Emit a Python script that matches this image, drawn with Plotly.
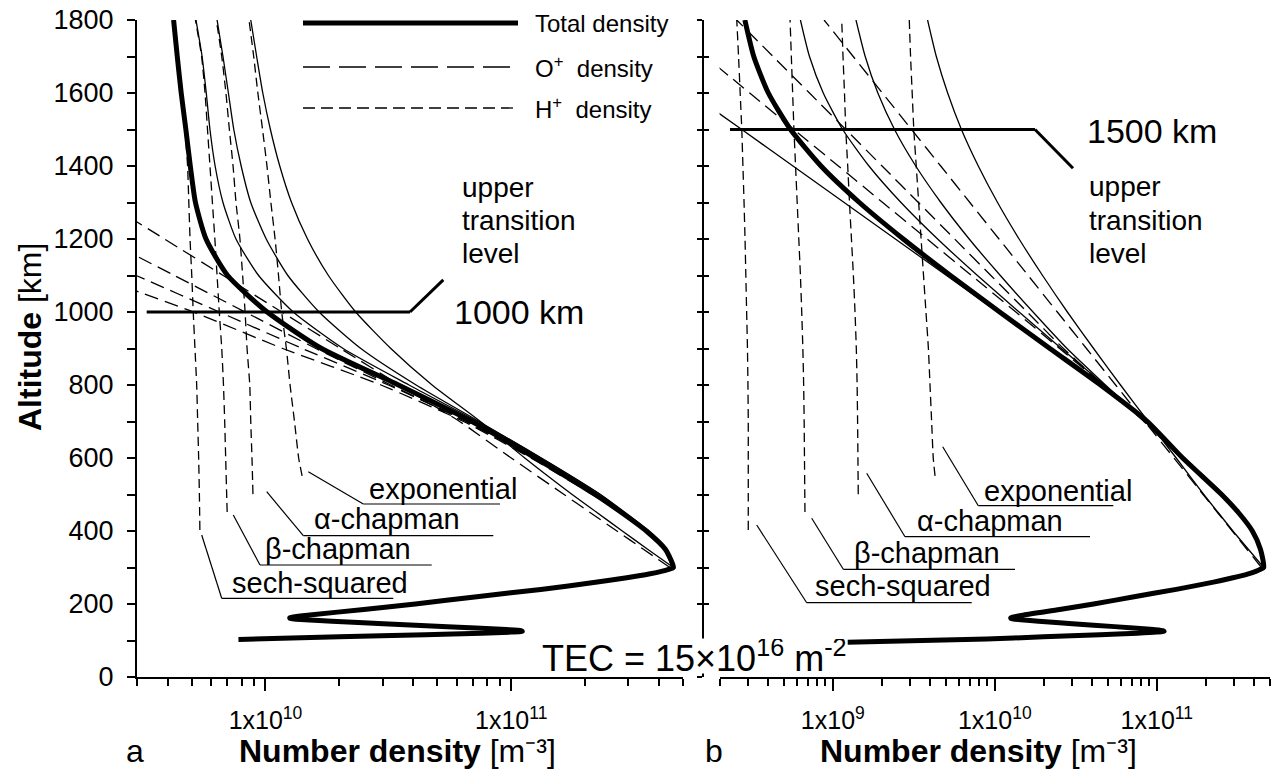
import numpy as np
import plotly.graph_objects as go

# ---------------- data: altitude [km] and log10(number density [m^-3]) ----------------
alt_top = [300, 350, 400, 450, 500, 600, 700, 800, 900, 1000, 1100, 1200, 1300, 1400, 1500, 1600, 1700, 1800]

# bottomside (E and F regions) of the total density
alt_bottom_a = [103, 110, 116, 120, 123, 125, 127, 130, 138, 146, 153, 157, 160, 163, 170, 185, 200, 220, 240, 260, 272, 282, 290, 295, 300]
logn_bottom_a = [9.89, 10.30, 10.65, 10.88, 11.0, 11.045, 11.04, 10.98, 10.74, 10.48, 10.27, 10.16, 10.10, 10.10, 10.18, 10.40, 10.61, 10.86, 11.12, 11.35, 11.47, 11.56, 11.615, 11.64, 11.66]
alt_bottom_b = [95, 104, 110, 116, 120, 123, 125, 127, 130, 138, 146, 153, 157, 160, 163, 170, 185, 200, 220, 240, 260, 272, 282, 290, 295, 300]
logn_bottom_b = [9.09, 9.95, 10.30, 10.65, 10.88, 11.0, 11.045, 11.04, 10.98, 10.74, 10.48, 10.27, 10.16, 10.10, 10.10, 10.18, 10.40, 10.61, 10.86, 11.12, 11.35, 11.47, 11.56, 11.615, 11.64, 11.66]

# ---- panel a (upper transition level 1000 km) ----
tot_sech_a = [11.66, 11.627, 11.55, 11.45, 11.341, 11.099, 10.84, 10.541, 10.228, 10.007, 9.846, 9.758, 9.715, 9.694, 9.676, 9.657, 9.641, 9.626]
tot_beta_a = [11.66, 11.632, 11.56, 11.465, 11.363, 11.123, 10.863, 10.584, 10.316, 10.113, 9.972, 9.880, 9.827, 9.795, 9.774, 9.759, 9.742, 9.717]
tot_alpha_a = [11.66, 11.63, 11.555, 11.46, 11.362, 11.12, 10.869, 10.613, 10.388, 10.218, 10.091, 10.003, 9.940, 9.901, 9.871, 9.849, 9.827, 9.803]
tot_exp_a = [11.66, 11.555, 11.452, 11.35, 11.248, 11.055, 10.874, 10.678, 10.51, 10.367, 10.256, 10.171, 10.106, 10.058, 10.020, 9.989, 9.964, 9.940]

oplus_sech_a = [11.655, 11.622, 11.546, 11.445, 11.33, 11.08, 10.806, 10.47, 10.07, 9.706, 9.30]
oplus_beta_a = [11.655, 11.627, 11.556, 11.457, 11.35, 11.10, 10.82, 10.50, 10.15, 9.812, 9.474, 9.136]
oplus_alpha_a = [11.655, 11.625, 11.55, 11.452, 11.345, 11.09, 10.815, 10.51, 10.205, 9.917, 9.629, 9.341, 9.053]
oplus_exp_a = [11.646, 11.538, 11.43, 11.322, 11.215, 11.0, 10.79, 10.545, 10.305, 10.066, 9.828, 9.589, 9.35, 9.112]

alt_h_sech = [403, 500, 600, 700, 800, 900, 1000, 1100, 1200, 1300, 1400, 1500, 1600, 1700, 1800]
alt_h_beta = [452, 500, 600, 700, 800, 900, 1000, 1100, 1200, 1300, 1400, 1500, 1600, 1700, 1800]
alt_h_alpha = [501, 600, 700, 800, 900, 1000, 1100, 1200, 1300, 1400, 1500, 1600, 1700, 1800]
alt_h_exp = [551, 600, 700, 800, 900, 1000, 1100, 1200, 1300, 1400, 1500, 1600, 1700, 1800]

hplus_sech_a = [9.733, 9.731, 9.728, 9.724, 9.72, 9.713, 9.706, 9.70, 9.693, 9.688, 9.683, 9.672, 9.655, 9.64, 9.625]
hplus_beta_a = [9.844, 9.842, 9.838, 9.834, 9.829, 9.822, 9.812, 9.803, 9.794, 9.784, 9.774, 9.764, 9.754, 9.74, 9.715]
hplus_alpha_a = [9.949, 9.945, 9.94, 9.936, 9.925, 9.917, 9.907, 9.896, 9.88, 9.868, 9.853, 9.839, 9.822, 9.80]
hplus_exp_a = [10.149, 10.135, 10.118, 10.10, 10.085, 10.066, 10.053, 10.039, 10.022, 10.006, 9.988, 9.969, 9.952, 9.933]

# ---- panel b (upper transition level 1500 km) ----
tot_sech_b = [11.66, 11.64, 11.59, 11.505, 11.40, 11.16, 10.942, 10.653, 10.340, 10.030, 9.726, 9.435, 9.164, 8.927, 8.739, 8.602, 8.512, 8.457]
tot_beta_b = [11.66, 11.642, 11.595, 11.512, 11.41, 11.17, 10.943, 10.676, 10.411, 10.150, 9.893, 9.647, 9.421, 9.223, 9.061, 8.941, 8.856, 8.800]
tot_alpha_b = [11.66, 11.638, 11.585, 11.50, 11.393, 11.153, 10.927, 10.683, 10.446, 10.236, 10.034, 9.842, 9.667, 9.512, 9.381, 9.278, 9.200, 9.143]
tot_exp_b = [11.66, 11.565, 11.47, 11.38, 11.29, 11.12, 10.947, 10.776, 10.610, 10.448, 10.295, 10.150, 10.017, 9.898, 9.794, 9.709, 9.639, 9.585]

oplus_sech_b = [11.655, 11.636, 11.59, 11.50, 11.40, 11.16, 10.94, 10.65, 10.334, 10.018, 9.702, 9.386, 9.07, 8.754, 8.438, 8.12]
oplus_beta_b = [11.655, 11.638, 11.595, 11.51, 11.41, 11.17, 10.94, 10.67, 10.40, 10.13, 9.856, 9.582, 9.308, 9.034, 8.760, 8.487, 8.213]
oplus_alpha_b = [11.655, 11.634, 11.585, 11.495, 11.39, 11.15, 10.92, 10.67, 10.424, 10.20, 9.976, 9.752, 9.528, 9.304, 9.08, 8.856, 8.631, 8.407]
oplus_exp_b = [11.646, 11.556, 11.466, 11.376, 11.286, 11.106, 10.926, 10.746, 10.566, 10.386, 10.206, 10.026, 9.846, 9.666, 9.486, 9.306, 9.126, 8.946]

hplus_sech_b = [8.478, 8.478, 8.478, 8.478, 8.476, 8.473, 8.468, 8.463, 8.458, 8.452, 8.445, 8.438, 8.428, 8.418, 8.407]
hplus_beta_b = [8.828, 8.827, 8.825, 8.823, 8.82, 8.815, 8.808, 8.80, 8.79, 8.78, 8.77, 8.76, 8.752, 8.744, 8.736]
hplus_alpha_b = [9.157, 9.155, 9.153, 9.15, 9.145, 9.137, 9.127, 9.115, 9.103, 9.092, 9.08, 9.072, 9.063, 9.055]
hplus_exp_b = [9.631, 9.62, 9.61, 9.60, 9.59, 9.575, 9.56, 9.545, 9.53, 9.515, 9.50, 9.49, 9.48, 9.472]

transition_a = 1000
transition_b = 1500
model_labels = ["exponential", "\u03b1-chapman", "\u03b2-chapman", "sech-squared"]
xticks_a = [1e10, 1e11]
xticks_b = [1e9, 1e10, 1e11]
xtick_text_a = ["1x10<sup>10</sup>", "1x10<sup>11</sup>"]
xtick_text_b = ["1x10<sup>9</sup>", "1x10<sup>10</sup>", "1x10<sup>11</sup>"]

# ---------------- figure ----------------
W, H = 1271, 771
FONT = "Liberation Sans, Arial, Helvetica, sans-serif"
def px(x): return x / W
def py(y): return 1 - y / H

THICK, THIN = 5, 1.3
DASH_O, DASH_H = "14px,7px", "9px,5px"

fig = go.Figure()

def curve(xa, ya, alt, logn, width=THIN, dash="solid"):
    fig.add_trace(go.Scatter(
        x=(10.0 ** np.asarray(logn)).tolist(), y=list(alt), xaxis=xa, yaxis=ya, mode="lines",
        line=dict(color="black", width=width, dash=dash, shape="spline", smoothing=0.6),
        showlegend=False, hoverinfo="skip"))

# panel a
for tot, op, hp, ah in [(tot_exp_a, oplus_exp_a, hplus_exp_a, alt_h_exp),
                        (tot_alpha_a, oplus_alpha_a, hplus_alpha_a, alt_h_alpha),
                        (tot_beta_a, oplus_beta_a, hplus_beta_a, alt_h_beta)]:
    curve("x", "y", alt_top, tot)
    curve("x", "y", alt_top[:len(op)], op, dash=DASH_O)
    curve("x", "y", ah, hp, dash=DASH_H)
curve("x", "y", alt_top[:len(oplus_sech_a)], oplus_sech_a, dash=DASH_O)
curve("x", "y", alt_h_sech, hplus_sech_a, dash=DASH_H)
curve("x", "y", alt_bottom_a + alt_top[1:], logn_bottom_a + tot_sech_a[1:], width=THICK)

# panel b
for tot, op, hp, ah in [(tot_exp_b, oplus_exp_b, hplus_exp_b, alt_h_exp),
                        (tot_alpha_b, oplus_alpha_b, hplus_alpha_b, alt_h_alpha),
                        (tot_beta_b, oplus_beta_b, hplus_beta_b, alt_h_beta)]:
    curve("x2", "y2", alt_top, tot)
    curve("x2", "y2", alt_top[:len(op)], op, dash=DASH_O)
    curve("x2", "y2", ah, hp, dash=DASH_H)
curve("x2", "y2", alt_top[:len(oplus_sech_b)], oplus_sech_b)
curve("x2", "y2", alt_h_sech, hplus_sech_b, dash=DASH_H)
curve("x2", "y2", alt_bottom_b + alt_top[1:], logn_bottom_b + tot_sech_b[1:], width=THICK)

def minor_vals(lo_exp, hi_exp):
    return [m * 10.0 ** e for e in range(lo_exp, hi_exp + 1) for m in range(2, 10)]

minor_a = [v for v in minor_vals(9, 11) if 2.99e9 <= v <= 5.01e11]
minor_b = [v for v in minor_vals(8, 11) if 1.99e8 <= v <= 5.01e11]

ydom = [py(677), py(20)]
xaxis_common = dict(type="log", showgrid=False, zeroline=False, showline=True, linecolor="black",
                    linewidth=2, ticks="outside", ticklen=12, tickwidth=2, tickcolor="black",
                    tickfont=dict(family=FONT, size=25, color="black"), tickmode="array",
                    ticklabelstandoff=8, automargin=False)
ylabels = [str(v) if v % 200 == 0 else "" for v in range(0, 1900, 100)]

fig.update_layout(
    width=W, height=H, margin=dict(l=0, r=0, t=0, b=0, autoexpand=False),
    paper_bgcolor="white", plot_bgcolor="white", showlegend=False,
    font=dict(family=FONT, color="black"),
    xaxis=dict(domain=[px(137), px(683)], range=[np.log10(3e9), np.log10(5e11)], anchor="y",
               tickvals=xticks_a, ticktext=xtick_text_a,
               minor=dict(tickvals=minor_a, ticks="outside", ticklen=7, tickwidth=2, tickcolor="black"),
               **xaxis_common),
    xaxis2=dict(domain=[px(719.6), px(1270)], range=[np.log10(2e8), np.log10(5e11)], anchor="y2",
                tickvals=xticks_b, ticktext=xtick_text_b,
                minor=dict(tickvals=minor_b, ticks="outside", ticklen=7, tickwidth=2, tickcolor="black"),
                **xaxis_common),
    yaxis=dict(domain=ydom, range=[0, 1800], anchor="x", showgrid=False, zeroline=False,
               showline=True, linecolor="black", linewidth=2, ticks="outside", ticklen=8,
               tickwidth=2, tickcolor="black", tickmode="array",
               tickvals=list(range(0, 1900, 100)), ticktext=ylabels, automargin=False,
               tickfont=dict(family=FONT, size=27, color="black"), ticklabelstandoff=8),
    yaxis2=dict(domain=ydom, range=[0, 1800], anchor="free", position=px(703), showgrid=False,
                zeroline=False, showline=True, linecolor="black", linewidth=2, ticks="outside",
                ticklen=5, tickwidth=2, tickcolor="black", tickmode="array", automargin=False,
                tickvals=list(range(0, 1900, 100)), showticklabels=False),
    yaxis3=dict(domain=ydom, range=[0, 1800], anchor="free", position=px(703), overlaying="y2",
                showgrid=False, zeroline=False, showline=False, ticks="inside", ticklen=5,
                tickwidth=2, tickcolor="black", tickmode="array", automargin=False,
                tickvals=list(range(0, 1900, 100)), showticklabels=False),
)
# invisible trace so yaxis3 is drawn
fig.add_trace(go.Scatter(x=[1e9], y=[0], xaxis="x2", yaxis="y3", mode="lines",
                         line=dict(width=0), showlegend=False, hoverinfo="skip"))

shapes = []
def seg(x0, y0, x1, y1, w=1.2, dash="solid", xref="paper", yref="paper"):
    shapes.append(dict(type="line", xref=xref, yref=yref, x0=x0, y0=y0, x1=x1, y1=y1,
                       line=dict(color="black", width=w, dash=dash)))

# upper transition level markers
seg(px(146.7), transition_a, px(410), transition_a, w=3, yref="y")
seg(px(410), transition_a, px(443.3), transition_a + 88, w=3, yref="y")
seg(px(730), transition_b, px(1035), transition_b, w=3, yref="y")
seg(px(1035), transition_b, px(1073), transition_b - 106, w=3, yref="y")

# legend samples
seg(px(303), py(23), px(518), py(23), w=5)
seg(px(303), py(67), px(518), py(67), w=1.3, dash="27px,9px")
seg(px(303), py(108), px(518), py(108), w=1.3, dash="12px,6px")

# leader lines + underlines
leaders_a = [((308.3, 471.7), (363.3, 504), 500),
             ((266.7, 491.7), (303.3, 535.7), 493.3),
             ((233.3, 515), (260, 565), 431.7),
             ((201.7, 535), (221.7, 598.3), 393.3)]
leaders_b = [((942.7, 446.7), (978.3, 505.7), 1113.3),
             ((866.7, 473.3), (905, 536.7), 1090),
             ((811.7, 518.3), (843.3, 569.3), 1015),
             ((756.7, 525), (806.7, 602.7), 971.7)]
for (a0, a1, xend) in leaders_a + leaders_b:
    seg(px(a0[0]), py(a0[1]), px(a1[0]), py(a1[1]))
    seg(px(a1[0]), py(a1[1]), px(xend), py(a1[1]))

fig.update_layout(shapes=shapes)

ann = []
def text(x, y, s, size, xanchor="left", yanchor="middle", **kw):
    ann.append(dict(x=px(x), y=py(y), xref="paper", yref="paper", text=s, showarrow=False,
                    xanchor=xanchor, yanchor=yanchor,
                    font=dict(family=FONT, size=size, color="black"), **kw))

label_pos_a = [(366.7, 489), (311.7, 519), (263.3, 549), (230, 582.5)]
label_pos_b = [(981.7, 491), (915, 521), (851.7, 552.5), (813.3, 586)]
for lab, (x, y) in zip(model_labels, label_pos_a):
    text(x, y, lab, 29)
for lab, (x, y) in zip(model_labels, label_pos_b):
    text(x, y, lab, 29)

text(452, 312, "%d km" % transition_a, 34)
text(1085, 131, "%d km" % transition_b, 34)
for (x, ys) in [(460, (187, 220, 253.5)), (1086.7, (186, 220, 253.5))]:
    for s, y in zip(["upper", "transition", "level"], ys):
        text(x, y, s, 28)

# legend text
text(533, 23, "Total density", 24)
text(533, 67, "O<sup>+</sup>  density", 24)
text(533, 108, "H<sup>+</sup>  density", 24)

# TEC
ann.append(dict(x=px(695), y=py(656), xref="paper", yref="paper",
                text="TEC = 15\u00d710<sup>16</sup> m<sup>-2</sup>", showarrow=False,
                xanchor="center", yanchor="middle", bgcolor="white", borderpad=0, height=34,
                font=dict(family=FONT, size=36, color="black")))

# axis titles
ann.append(dict(x=px(30), y=py(337), xref="paper", yref="paper", text="<b>Altitude</b> [km]",
                showarrow=False, textangle=-90, xanchor="center", yanchor="middle",
                font=dict(family=FONT, size=32, color="black")))
for xc, lab in [(397, "<b>Number density</b> [m\u207b\u00b3]"),
                (978, "<b>Number density</b> [m\u207b\u00b3]"),
                (135, "a"), (714, "b")]:
    text(xc, 770, lab, 32, xanchor="center", yanchor="bottom", borderpad=0)

fig.update_layout(annotations=ann)
fig.write_html("out.html", config={"displayModeBar": False},
               post_script="document.body.style.margin='0px';document.body.style.overflow='hidden';")
